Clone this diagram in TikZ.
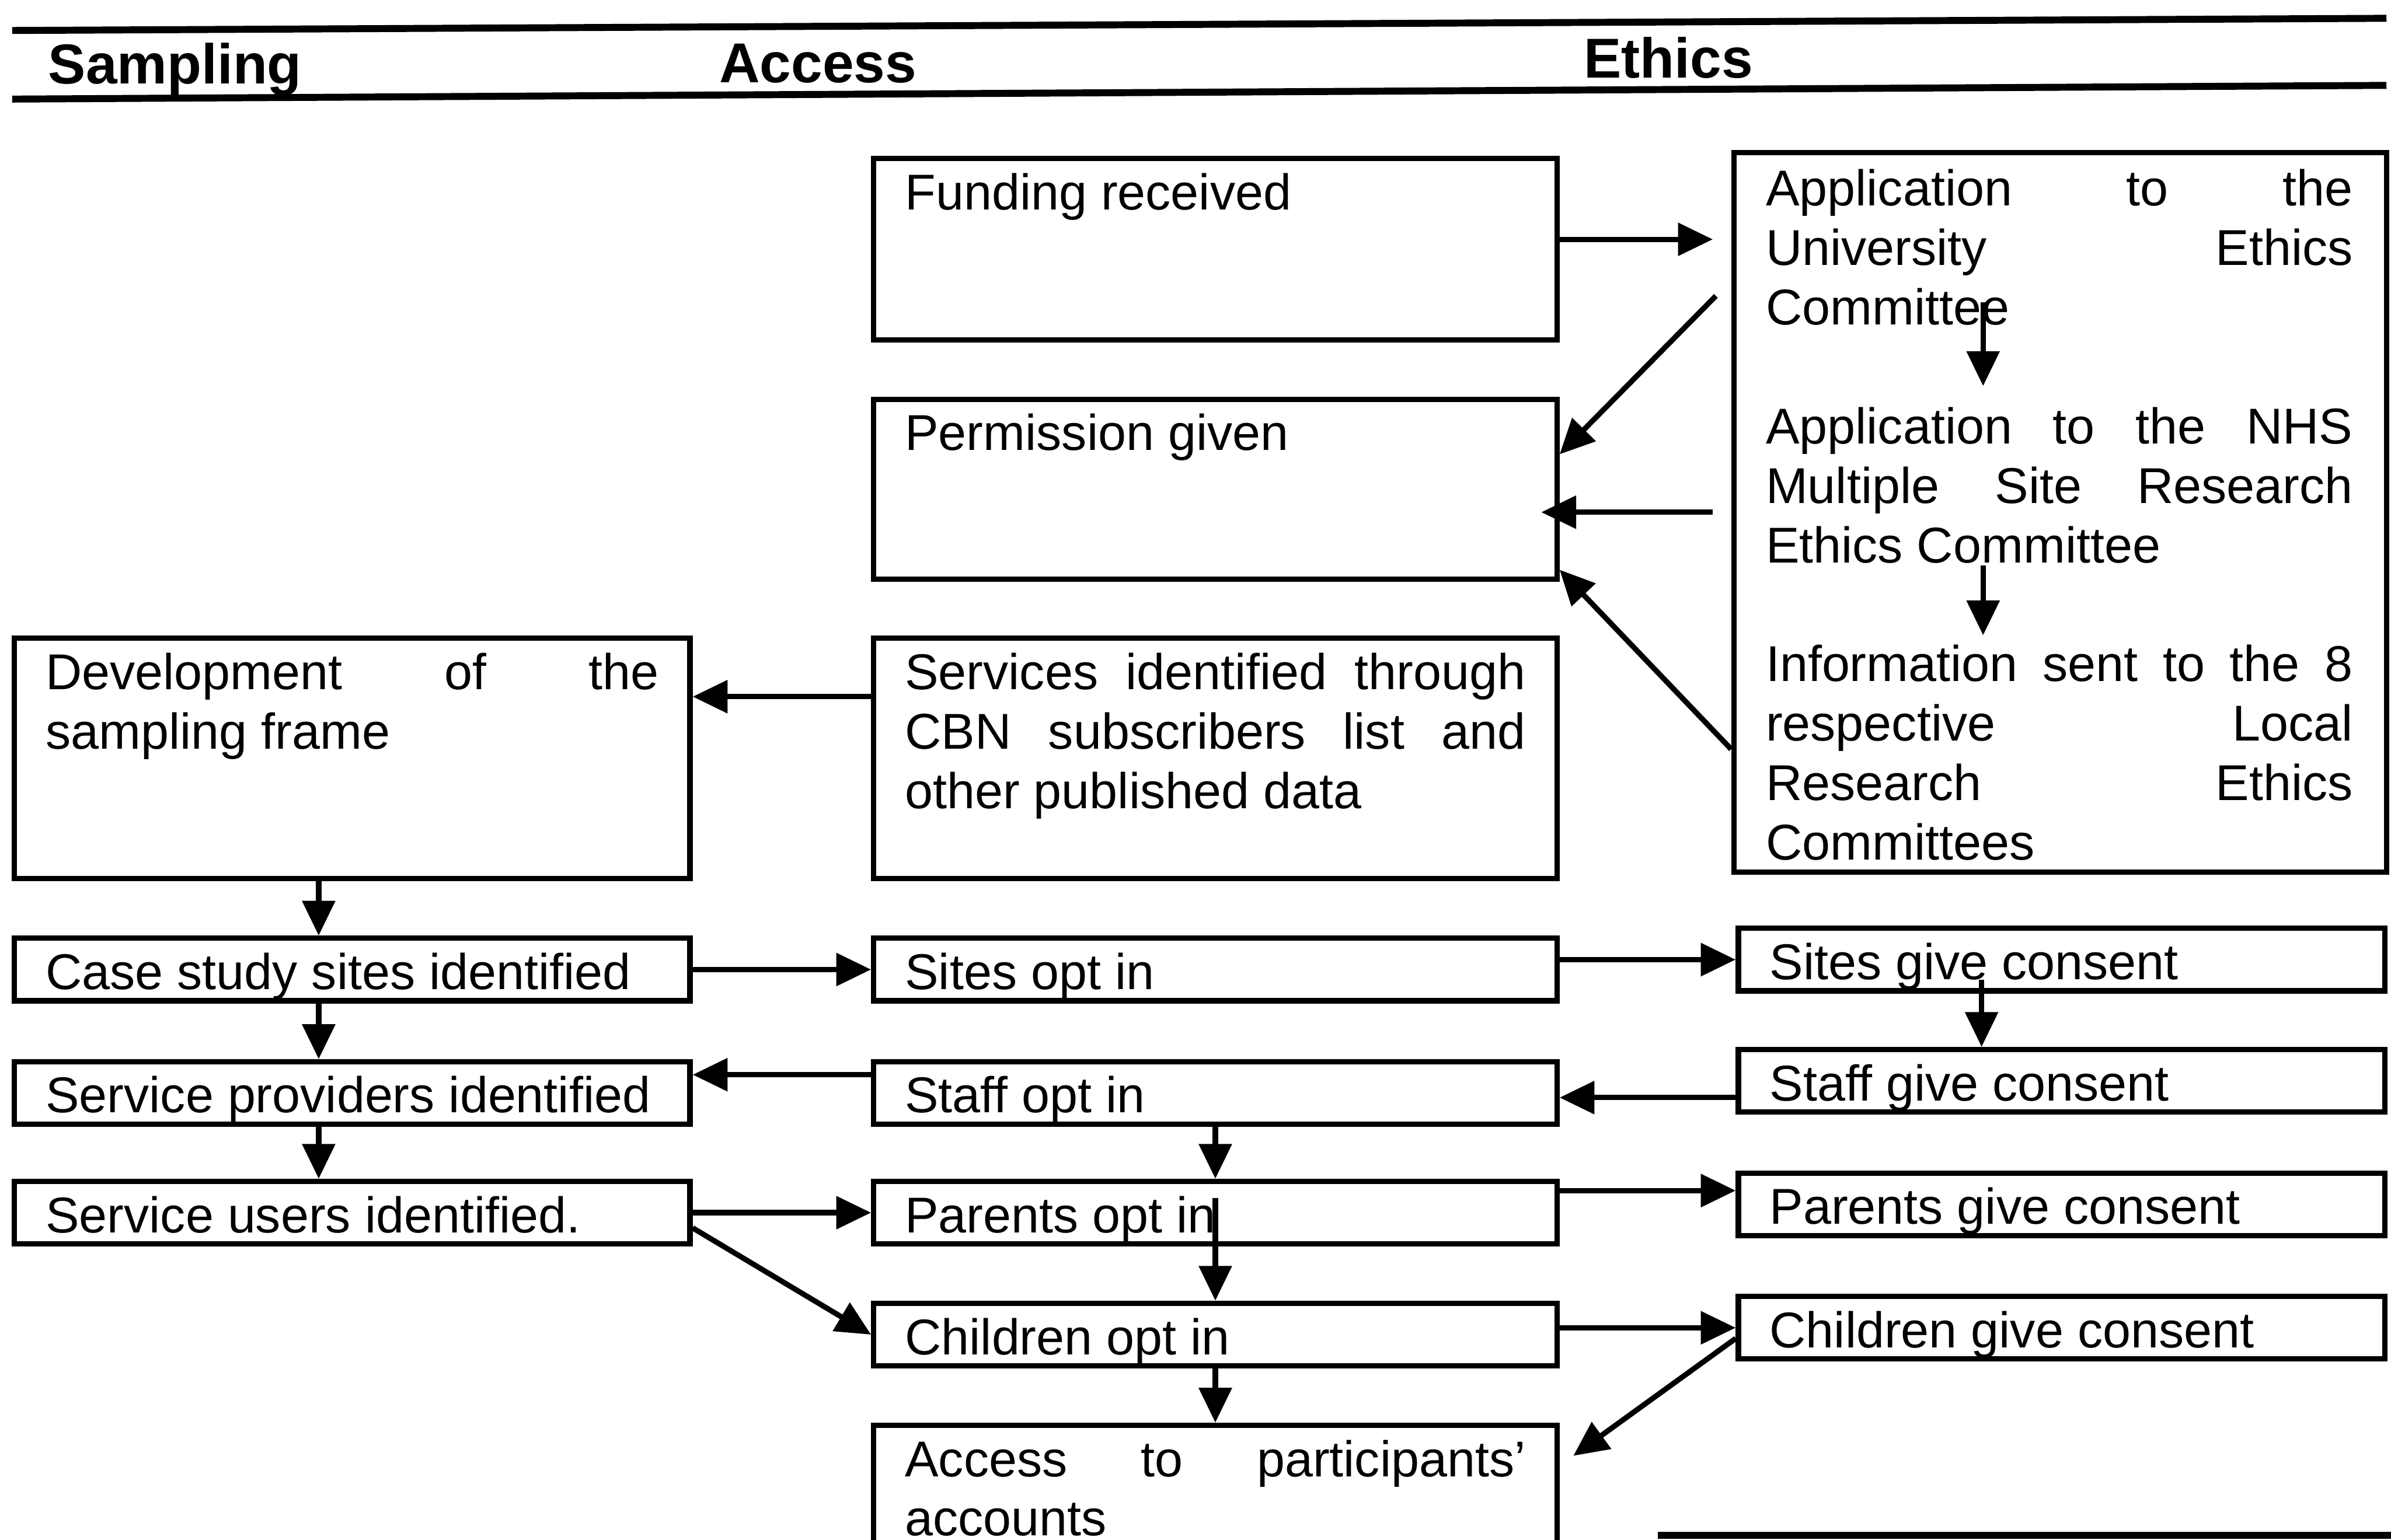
\documentclass[tikz,border=0pt]{standalone}
\usepackage{fontspec}
\setmainfont{Liberation Sans}
\usetikzlibrary{positioning, arrows.meta}

\begin{document}
\begin{tikzpicture}[>={Triangle[length=13pt,width=12pt]}, line width=2pt, on grid,
   box/.style={draw, align=justify, inner xsep=0.41cm, inner ysep=0.1cm,
      text height=0.57cm, font=\fontsize{18.8}{22.2}\selectfont},
   colA/.style={box, text width=8.04cm},
   colB/.style={box, text width=8.14cm},
   colC/.style={box, text width=7.66cm},
   row/.style={text depth=0.05cm},
   tall/.style={text depth=#1},
   etxt/.style={inner sep=0pt, anchor=north west, align=justify, text width=7.7cm,
      text height=0.57cm, font=\fontsize{18.8}{22.2}\selectfont},
   heading/.style={anchor=base west, inner sep=0pt, font=\fontsize{21}{25}\selectfont\bfseries},
   hrule/.style={line width=2.6pt}]
   \useasboundingbox (0,0) rectangle (31.36,-20.2);
   \clip (0,0) rectangle (31.36,-20.2);

   % column headings
   \node[heading] (hdS) at (0.6,-1.1) {Sampling};
   \node[heading] (hdA) at (9.4,-1.08) {Access};
   \node[heading] (hdE) at (20.74,-1.02) {Ethics};
   \draw[hrule] (0.16,-0.4) -- (31.3,-0.24);
   \draw[hrule] (0.16,-1.3) -- (31.3,-1.12);
   \draw[hrule] (21.74,-20.14) -- (31.36,-20.14);

   % access column
   \node[colB, tall=1.61cm] (fund) at (15.94,-3.27) {Funding received};
   \node[colB, tall=1.59cm] (perm) [below=3.15cm of fund] {Permission given};
   \node[colB, tall=2.38cm] (serv) [below=3.53cm of perm]
      {Services \hfill identified \hfill through\\ CBN \hfill subscribers \hfill list \hfill and\\ other published data};
   \node[colB, row] (sitesB) [below=2.77cm of serv] {Sites opt in};
   \node[colB, row] (staffB) [below=1.62cm of sitesB] {Staff opt in};
   \node[colB, row] (parentsB) [below=1.57cm of staffB] {Parents opt in};
   \node[colB, row] (childB) [below=1.6cm of parentsB] {Children opt in};
   \node[colB, tall=1.73cm] (access) [below=2.44cm of childB]
      {Access \hfill to \hfill participants'\\ accounts};

   % sampling column
   \node[colA, tall=2.38cm] (dev) [left=11.32cm of serv] {Development \hfill of \hfill the\\ sampling frame};
   \node[colA, row] (caseA) [left=11.32cm of sitesB] {Case study sites identified};
   \node[colA, row] (provA) [left=11.32cm of staffB] {Service providers identified};
   \node[colA, row] (usersA) [left=11.32cm of parentsB] {Service users identified.};

   % ethics column
   \node[draw, inner sep=0pt, minimum width=8.56cm, minimum height=9.44cm] (eth)
      [below right=0.3cm and 11.08cm of perm] {};
   \node[etxt] (uni) at ([xshift=0.42cm,yshift=-0.13cm]eth.north west)
      {Application \hfill to \hfill the\\ University \hfill Ethics\\ Committee};
   \node[etxt] (nhs) at ([yshift=-3.12cm]uni.north west)
      {Application \hfill to \hfill the \hfill NHS\\ Multiple \hfill Site \hfill Research\\ Ethics Committee};
   \node[etxt] (lrec) at ([yshift=-3.12cm]nhs.north west)
      {Information \hfill sent \hfill to \hfill the \hfill 8\\ respective \hfill Local\\ Research \hfill Ethics\\ Committees};
   \node[colC, row] (sitesC) [above right=0.13cm and 11.1cm of sitesB] {Sites give consent};
   \node[colC, row] (staffC) [above right=0.16cm and 11.1cm of staffB] {Staff give consent};
   \node[colC, row] (parentsC) [above right=0.11cm and 11.1cm of parentsB] {Parents give consent};
   \node[colC, row] (childC) [above right=0.09cm and 11.1cm of childB] {Children give consent};

   \path[->]
   ([yshift=0.13cm]fund.east) edge ([xshift=-0.24cm,yshift=0.13cm]fund.east -| eth.west)
   ([xshift=-0.62cm,yshift=0.42cm]uni.south west) edge ([yshift=0.46cm]perm.east)
   ([xshift=-1cm,yshift=0.34cm]uni.south) edge ([xshift=-1cm,yshift=0.15cm]nhs.north)
   ([xshift=-0.24cm]eth.west) edge ([xshift=-0.24cm]eth.west -| perm.east)
   ([xshift=-1cm]nhs.south) edge ([xshift=-1cm]lrec.north)
   (lrec.west -| eth.west) edge ([yshift=0.16cm]perm.south east)
   ([yshift=0.81cm]serv.west) edge ([yshift=0.81cm]serv.west -| dev.east)
   ([xshift=-0.44cm]dev.south) edge ([xshift=-0.44cm]caseA.north)
   (caseA) edge (sitesB)
   ([xshift=-0.44cm]caseA.south) edge ([xshift=-0.44cm]provA.north)
   ([yshift=0.24cm]staffB.west) edge ([yshift=0.24cm]staffB.west -| provA.east)
   ([xshift=-0.44cm]provA.south) edge ([xshift=-0.44cm]usersA.north)
   (usersA) edge (parentsB)
   ([yshift=-0.2cm]usersA.east) edge (childB.west)
   (sitesB.east |- sitesC.west) edge (sitesC.west)
   ([xshift=-1.05cm,yshift=0.18cm]sitesC.south) edge ([xshift=-1.05cm]staffC.north)
   ([yshift=-0.22cm]staffC.west) edge ([yshift=-0.22cm]staffC.west -| staffB.east)
   (staffB) edge (parentsB)
   ([yshift=0.19cm]parentsB.center) edge (childB.north)
   ([yshift=0.18cm]parentsC.west -| parentsB.east) edge ([yshift=0.18cm]parentsC.west)
   (childB.east |- childC.west) edge (childC.west)
   (childB) edge (access)
   ([yshift=-0.14cm]childC.west) edge ([xshift=0.18cm,yshift=0.85cm]access.east)
   ;
\end{tikzpicture}
\end{document}
